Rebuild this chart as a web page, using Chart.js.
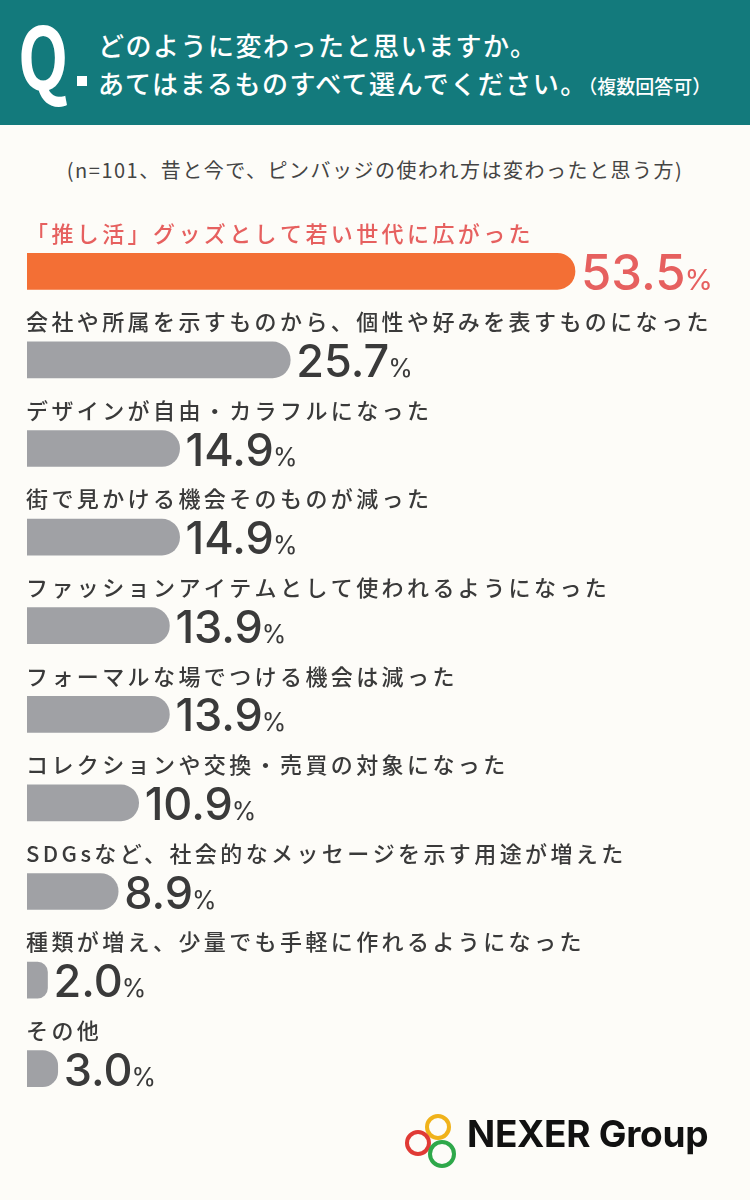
<!DOCTYPE html>
<html lang="ja">
<head>
<meta charset="utf-8">
<title>ピンバッジの使われ方の変化</title>
<script src="https://cdn.jsdelivr.net/npm/chart.js@4.4.1/dist/chart.umd.min.js"></script>
<style>
  html, body { margin: 0; padding: 0; }
  body {
    width: 750px; height: 1200px; position: relative; overflow: hidden;
    background: #fdfcf8;
    font-family: "Noto Sans CJK JP", "Noto Sans", sans-serif;
  }
  .head { position: absolute; left: 0; top: 0; width: 750px; height: 125px; background: #137a7c; color: #fff; }
  .q { position: absolute; left: 18px; top: 10px; font-size: 86px; font-weight: 700; line-height: 1;
       transform: scaleX(0.76); transform-origin: left top; }
  .dot { position: absolute; left: 77px; top: 76px; width: 10px; height: 10px; background: #fff; }
  .line { position: absolute; left: 98px; font-size: 26px; font-weight: 500; letter-spacing: 1.5px; line-height: 1; white-space: nowrap; }
  .line small { font-size: 19px; letter-spacing: 0; font-weight: 500; }
  .sub { position: absolute; left: 0; top: 160px; width: 750px; text-align: center; font-size: 20px;
         color: #444; letter-spacing: 1.5px; line-height: 1; }
  canvas { position: absolute; left: 0; top: 0; }
  .logo { position: absolute; left: 400px; top: 1108px; }
  .logo span { position: absolute; left: 67px; top: 7px; font-family: "Inter", "Noto Sans", sans-serif; font-weight: 700;
               font-size: 37px; color: #111; white-space: nowrap; line-height: 1; letter-spacing: -0.3px; }
</style>
</head>
<body>
<div class="head">
  <div class="q">Q</div>
  <div class="dot"></div>
  <div class="line" style="top:32px">どのように変わったと思いますか。</div>
  <div class="line" style="top:70px">あてはまるものすべて選んでください。<small>（複数回答可）</small></div>
</div>
<div class="sub">(n=101、昔と今で、ピンバッジの使われ方は変わったと思う方)</div>
<canvas id="barChart" width="750" height="1200"></canvas>
<div class="logo">
  <svg width="60" height="70" viewBox="0 0 60 70">
    <circle cx="38" cy="19" r="11" fill="none" stroke="#f0b21a" stroke-width="4"/>
    <circle cx="18" cy="35" r="11" fill="none" stroke="#e03a35" stroke-width="4"/>
    <circle cx="42" cy="46" r="12" fill="none" stroke="#2ea84a" stroke-width="4"/>
  </svg>
  <span>NEXER Group</span>
</div>
<script>
// data
const categories = [
  '「推し活」グッズとして若い世代に広がった',
  '会社や所属を示すものから、個性や好みを表すものになった',
  'デザインが自由・カラフルになった',
  '街で見かける機会そのものが減った',
  'ファッションアイテムとして使われるようになった',
  'フォーマルな場でつける機会は減った',
  'コレクションや交換・売買の対象になった',
  'SDGsなど、社会的なメッセージを示す用途が増えた',
  '種類が増え、少量でも手軽に作れるようになった',
  'その他'
];
const values = [53.5, 25.7, 14.9, 14.9, 13.9, 13.9, 10.9, 8.9, 2.0, 3.0];

const ACCENT = '#f36f35';
const ACCENT_TEXT = '#e6605f';
const GREY = '#a0a1a5';
const TEXT = '#3a3a3a';

// labels above each bar, value to the right of it
const rowLabels = {
  id: 'rowLabels',
  afterDatasetsDraw(chart) {
    const ctx = chart.ctx;
    const bars = chart.getDatasetMeta(0).data;
    bars.forEach((bar, i) => {
      const top = i === 0;
      ctx.save();
      ctx.fillStyle = top ? ACCENT_TEXT : TEXT;
      ctx.font = '500 22px "Noto Sans CJK JP"';
      ctx.letterSpacing = '3.4px';
      ctx.textBaseline = 'middle';
      ctx.fillText(categories[i], 26, bar.y - 38);

      ctx.letterSpacing = '0px';
      ctx.textBaseline = 'alphabetic';
      ctx.font = top ? '500 49px "Inter"' : '500 45px "Inter"';
      const txt = values[i].toFixed(1);
      const x0 = bar.x + 6;
      const base = bar.y + (top ? 19 : 17);
      ctx.fillText(txt, x0, base);
      const w = ctx.measureText(txt).width;
      ctx.font = top ? '400 29px "Inter"' : '400 25px "Inter"';
      ctx.fillText('%', x0 + w - 1, base);
      ctx.restore();
    });
  }
};

new Chart(document.getElementById('barChart'), {
  type: 'bar',
  data: {
    labels: categories,
    datasets: [{
      data: values,
      backgroundColor: values.map((v, i) => i === 0 ? ACCENT : GREY),
      borderRadius: 18,
      borderSkipped: 'start',
      barThickness: 36
    }]
  },
  options: {
    indexAxis: 'y',
    responsive: false,
    animation: false,
    layout: { padding: { left: 27, right: 6, top: 227, bottom: 87 } },
    plugins: { legend: { display: false }, tooltip: { enabled: false } },
    scales: {
      x: { min: 0, max: 70, display: false },
      y: { display: false }
    }
  },
  plugins: [rowLabels]
});
</script>
</body>
</html>
